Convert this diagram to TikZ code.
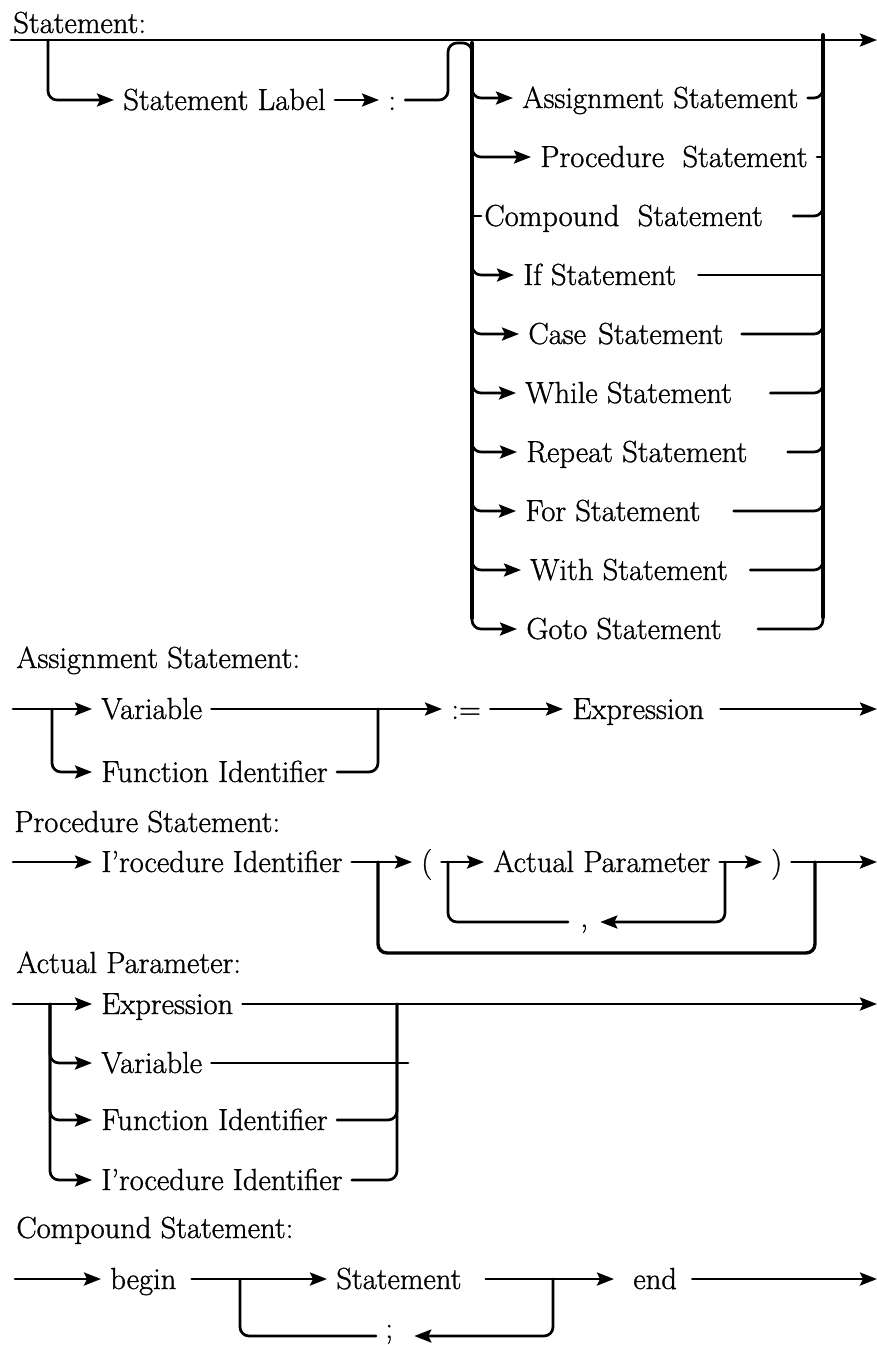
\documentclass[tikz,border=0pt]{standalone}
\usepackage{fontspec}
\setmainfont{Latin Modern Roman}[FakeBold=1]
\usetikzlibrary{arrows.meta}
\begin{document}
\begin{tikzpicture}[x=1pt,y=-1pt,line join=round,line cap=round,
	>={Stealth[length=17pt,width=13pt,inset=3pt]},line width=2.7pt,
	every node/.style={font=\fontsize{30.5}{36}\selectfont,anchor=west,
		inner xsep=8pt,inner ysep=0pt,text height=20pt,text depth=0pt},
	bar/.style={line width=4pt},rc/.style={rounded corners=9pt}]
	\useasboundingbox (0,0) rectangle (877,1345);
	% Statement
	\node (hStmt) at (4,23) {Statement:};
	\path (11,40) coordinate (S0) (877,40) coordinate (S1)
	(48,40) coordinate (S2) (472,43) coordinate (L) (823,40) coordinate (R);
	\draw[->] (S0)--(S1);
	\node (lab) at (114,100) {Statement Label};
	\node (col) at (379,100) {:};
	\draw[->,rc] (S2) |- (lab);
	\draw[->] (lab)--(col);
	\draw[rc] (col)--(448,100)--(448,43)--(472,43)--(472,80);
	\draw[bar] (L)--(472,618);
	\draw[bar] (823,35)--(823,617);
	\node (asg) at (513,98) {Assignment Statement};
	\node (prc) at (531,157) {Procedure\hspace{0.6em}Statement};
	\node[inner xsep=2pt] (cmp) at (481,216) {Compound\hspace{0.6em}Statement};
	\node (ifs) at (514,275) {If Statement};
	\node (cas) at (519,334) {Case\hspace{0.4em}Statement};
	\node (whl) at (516,393) {While Statement};
	\node (rep) at (517,452) {Repeat Statement};
	\node (fors) at (516,511) {For Statement};
	\node (wth) at (521,570) {With Statement};
	\node (gto) at (517,629) {Goto Statement};
	\draw[->,rc] (L) |- (asg);
	\draw[->,rc] (L) |- (prc);
	\draw (cmp -| L)--(cmp);
	\draw[->,rc] (L) |- (ifs);
	\draw[->,rc] (L) |- (cas);
	\draw[->,rc] (L) |- (whl);
	\draw[->,rc] (L) |- (rep);
	\draw[->,rc] (L) |- (fors);
	\draw[->,rc] (L) |- (wth);
	\draw[->,rc] (L) |- (gto);
	\draw[rc] (asg) -| (R);
	\draw (prc)--(prc -| R);
	\draw[rc,shorten <=27pt] (cmp) -| (R);
	\draw[shorten <=13pt] (ifs)--(ifs -| R);
	\draw[rc,shorten <=9pt] (cas) -| (R);
	\draw[rc,shorten <=29pt] (whl) -| (R);
	\draw[rc,shorten <=31pt] (rep) -| (R);
	\draw[rc,shorten <=24pt] (fors) -| (R);
	\draw[rc,shorten <=13pt] (wth) -| (R);
	\draw[rc,shorten <=27pt] (gto) -| (R);
	% Assignment Statement
	\node (hAsg) at (7,658) {Assignment Statement:};
	\path (13,709) coordinate (A0) (52,709) coordinate (A1)
	(378,709) coordinate (A2) (877,709) coordinate (A3);
	\node (var) at (92,709) {Variable};
	\node (fun) at (92,772) {Function Identifier};
	\node (asn) at (442,709) {:=};
	\node (exa) at (563,709) {Expression};
	\draw[->] (A0)--(var);
	\draw[->,rc] (A1) |- (fun);
	\draw[->] (var)--(asn);
	\draw[rc] (fun) -| (A2);
	\draw[->] (asn)--(exa);
	\draw[->,shorten <=7pt] (exa)--(A3);
	% Procedure Statement
	\node (hPrc) at (5,822) {Procedure Statement:};
	\path (13,862) coordinate (P0) (378,862) coordinate (P1)
	(448,862) coordinate (P2) (725,862) coordinate (P3)
	(815,862) coordinate (P4) (877,862) coordinate (P5)
	(0,953) coordinate (Pb);
	\node (pid) at (92,862) {I’rocedure Identifier};
	\node (lp) at (412,862) {(};
	\node (ap) at (484,862) {Actual Parameter};
	\node[inner xsep=11pt,text height=10pt] (cm) at (568,922) {,};
	\node (rp) at (762,862) {)};
	\draw[->] (P0)--(pid);
	\draw[->] (pid)--(lp);
	\draw[rc,line width=3.4pt] (P1) |- (Pb -| P4)--(P4);
	\draw[->] (lp)--(ap);
	\draw[rc] (P2) |- (cm);
	\draw[->,rc] (P3) |- (cm);
	\draw[->] (ap)--(rp);
	\draw[->] (rp)--(P5);
	% Actual Parameter
	\node (hAct) at (7,963) {Actual Parameter:};
	\path (13,1004) coordinate (Q0) (50,1004) coordinate (Q1)
	(397,1004) coordinate (Q2) (408,1063) coordinate (Q3)
	(877,1004) coordinate (Q4);
	\node (ex2) at (92,1004) {Expression};
	\node (va2) at (92,1063) {Variable};
	\node (fu2) at (92,1120) {Function Identifier};
	\node (pi2) at (92,1180) {I’rocedure Identifier};
	\draw[->] (Q0)--(ex2);
	\draw[->,rc] (Q1) |- (va2);
	\draw[->,rc] (Q1) |- (fu2);
	\draw[->,rc] (Q1) |- (pi2);
	\draw[->] (ex2)--(Q4);
	\draw (va2)--(Q3);
	\draw[rc] (fu2) -| (Q2);
	\draw[rc] (pi2) -| (Q2);
	% Compound Statement
	\node (hCmp) at (7,1228) {Compound Statement:};
	\path (15,1279) coordinate (C0) (240,1279) coordinate (C1)
	(553,1279) coordinate (C2) (877,1279) coordinate (C3);
	\node (beg) at (101,1279) {begin};
	\node (stm) at (327,1279) {Statement};
	\node (ends) at (624,1279) {end};
	\node[text height=4pt] (sc) at (376,1336) {;};
	\draw[->] (C0)--(beg);
	\draw[->,shorten <=6pt] (beg)--(stm);
	\draw[rc] (C1) |- (sc);
	\draw[->,shorten <=15pt,shorten >=10pt] (stm)--(ends);
	\draw[->,rc,shorten >=12pt] (C2) |- (sc);
	\draw[->,shorten <=6pt] (ends)--(C3);
\end{tikzpicture}
\end{document}
